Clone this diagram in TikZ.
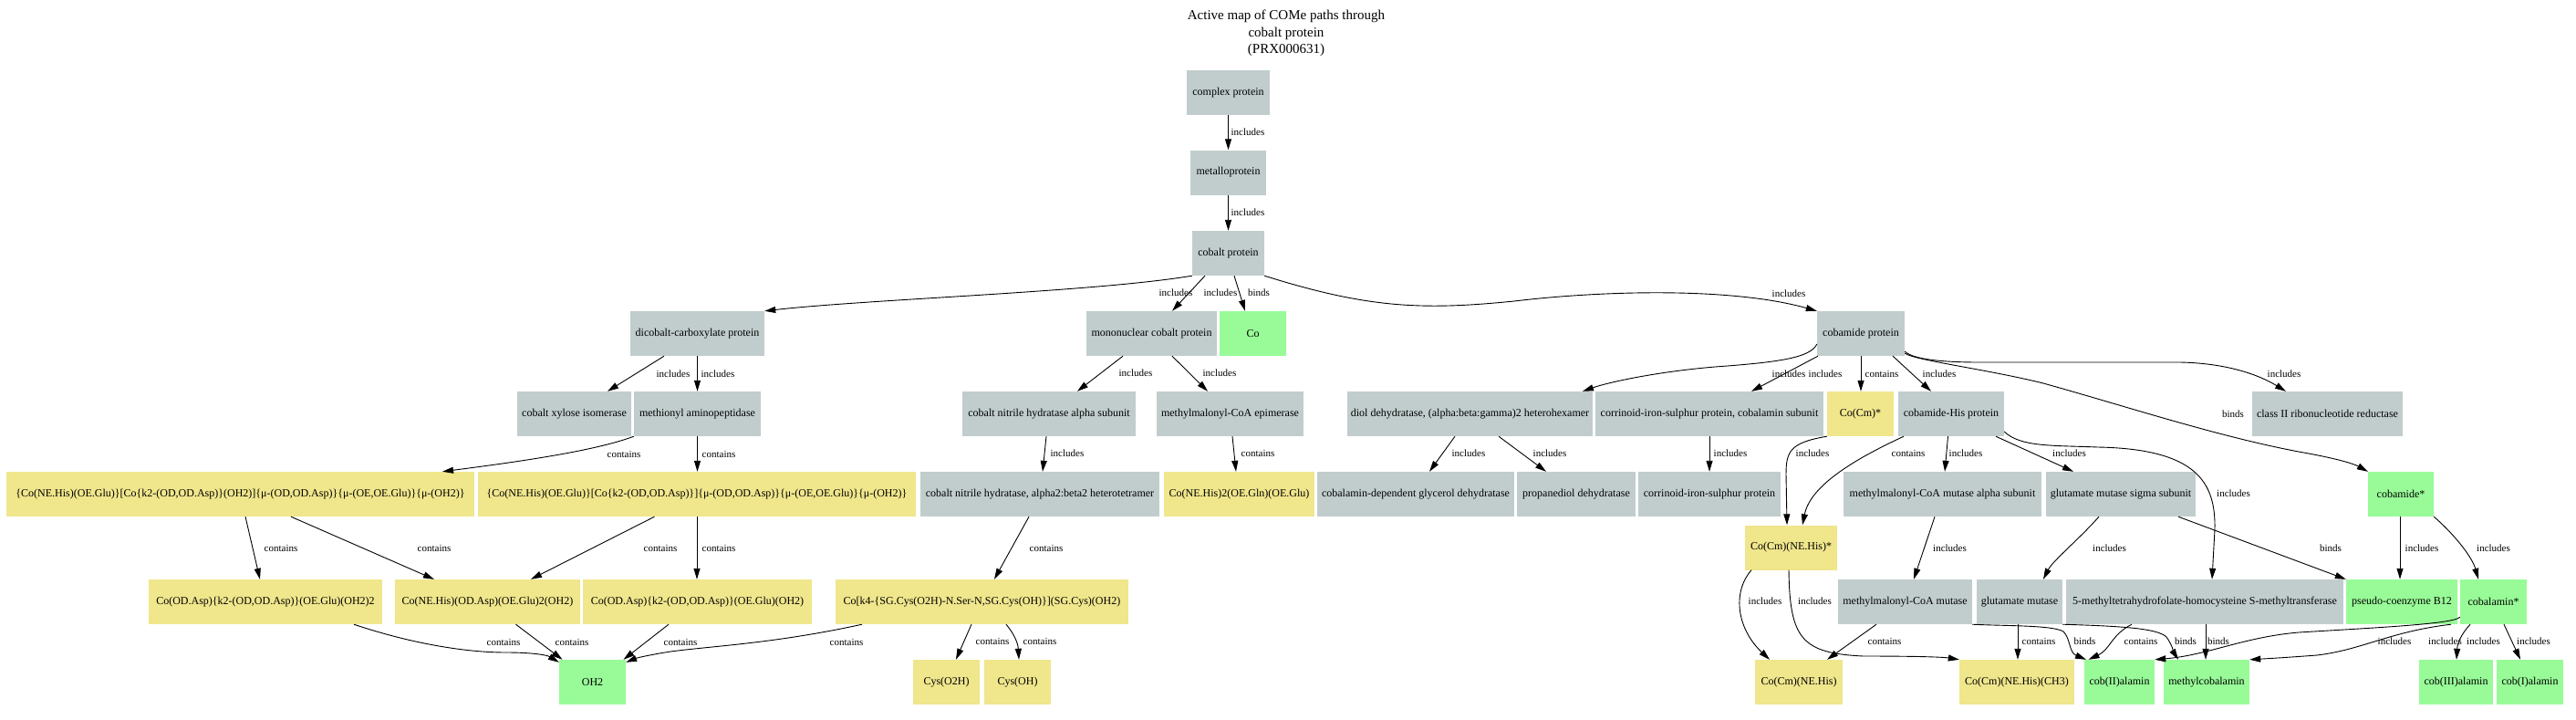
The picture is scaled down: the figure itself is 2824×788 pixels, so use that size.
\documentclass[tikz,border=0pt]{standalone}
\usepackage{fontspec}
\setmainfont{Liberation Serif}
\usetikzlibrary{arrows.meta}
\definecolor{gnode}{HTML}{C1CDCD}
\definecolor{ynode}{HTML}{F0E68C}
\definecolor{pnode}{HTML}{98FB98}
\begin{document}
\begin{tikzpicture}[x=1pt,y=-1pt,
  box/.style={rectangle, minimum height=49pt, inner sep=1pt, font=\fontsize{12}{14}\selectfont},
  g/.style={box, fill=gnode},
  yl/.style={box, fill=ynode},
  pg/.style={box, fill=pnode},
  e/.style={draw, line width=0.9pt, -{Triangle[length=12pt,width=7pt]}},
  lbl/.style={font=\fontsize{11}{13}\selectfont, inner sep=0pt}]
\fill[white] (0,0) rectangle (2824,788);
\useasboundingbox (0,0) rectangle (2824,788);
\node[align=center, font=\fontsize{15}{18.5}\selectfont] (title) at (1410,36.5) {Active map of COMe paths through\\cobalt protein\\(PRX000631)};
% nodes
\node[g, minimum width=91pt] (complex) at (1346.5,101.5) {complex protein};
\node[g, minimum width=83pt] (metallo) at (1346.5,189) {metalloprotein};
\node[g, minimum width=79pt] (cobalt) at (1346.5,277.5) {cobalt protein};
\node[g, minimum width=147pt] (dicobalt) at (764.5,365.5) {dicobalt-carboxylate protein};
\node[g, minimum width=143pt] (mono) at (1262.5,365.5) {mononuclear cobalt protein};
\node[pg, minimum width=73pt] (Co) at (1373.5,365.5) {Co};
\node[g, minimum width=96pt] (cobamide) at (2040,365.5) {cobamide protein};
\node[g, minimum width=125pt] (xylose) at (629.5,453.5) {cobalt xylose isomerase};
\node[g, minimum width=139pt] (methionyl) at (764.5,453.5) {methionyl aminopeptidase};
\node[g, minimum width=190pt] (alpha) at (1150,453.5) {cobalt nitrile hydratase alpha subunit};
\node[g, minimum width=161pt] (epimerase) at (1348.5,453.5) {methylmalonyl-CoA epimerase};
\node[g, minimum width=269pt] (diol) at (1611.5,453.5) {diol dehydratase, (alpha:beta:gamma)2 heterohexamer};
\node[g, minimum width=250pt] (corrsub) at (1874,453.5) {corrinoid-iron-sulphur protein, cobalamin subunit};
\node[yl, minimum width=73pt] (cocm) at (2039.5,453.5) {Co(Cm)*};
\node[g, minimum width=116pt] (cobhis) at (2139,453.5) {cobamide-His protein};
\node[g, minimum width=165pt] (classII) at (2551.5,453.5) {class II ribonucleotide reductase};
\node[yl, minimum width=513pt] (yone) at (263.5,541.5) {\{Co(NE.His)(OE.Glu)\}[Co\{k2-(OD,OD.Asp)\}(OH2)]\{μ-(OD,OD.Asp)\}\{μ-(OE,OE.Glu)\}\{μ-(OH2)\}};
\node[yl, minimum width=480pt] (ytwo) at (764,541.5) {\{Co(NE.His)(OE.Glu)\}[Co\{k2-(OD,OD.Asp)\}]\{μ-(OD,OD.Asp)\}\{μ-(OE,OE.Glu)\}\{μ-(OH2)\}};
\node[g, minimum width=262pt] (hetero) at (1140,541.5) {cobalt nitrile hydratase, alpha2:beta2 heterotetramer};
\node[yl, minimum width=165pt] (conehis2) at (1358.5,541.5) {Co(NE.His)2(OE.Gln)(OE.Glu)};
\node[g, minimum width=216pt] (glycerol) at (1552,541.5) {cobalamin-dependent glycerol dehydratase};
\node[g, minimum width=130pt] (propanediol) at (1728,541.5) {propanediol dehydratase};
\node[g, minimum width=156pt] (corr) at (1874,541.5) {corrinoid-iron-sulphur protein};
\node[g, minimum width=217pt] (mutalpha) at (2129.5,541.5) {methylmalonyl-CoA mutase alpha subunit};
\node[g, minimum width=164pt] (sigma) at (2325,541.5) {glutamate mutase sigma subunit};
\node[pg, minimum width=72pt] (cobamidestar) at (2632,541.5) {cobamide*};
\node[yl, minimum width=101pt] (cocmnehisstar) at (1963.5,600) {Co(Cm)(NE.His)*};
\node[yl, minimum width=256pt] (aone) at (291,659.5) {Co(OD.Asp)\{k2-(OD,OD.Asp)\}(OE.Glu)(OH2)2};
\node[yl, minimum width=203pt] (atwo) at (534.5,659.5) {Co(NE.His)(OD.Asp)(OE.Glu)2(OH2)};
\node[yl, minimum width=251pt] (athree) at (764.5,659.5) {Co(OD.Asp)\{k2-(OD,OD.Asp)\}(OE.Glu)(OH2)};
\node[yl, minimum width=321pt] (cok4) at (1076.5,659.5) {Co[k4-\{SG.Cys(O2H)-N.Ser-N,SG.Cys(OH)\}](SG.Cys)(OH2)};
\node[g, minimum width=147pt] (mutase) at (2088.5,659.5) {methylmalonyl-CoA mutase};
\node[g, minimum width=94pt] (glumut) at (2214,659.5) {glutamate mutase};
\node[g, minimum width=304pt] (mt) at (2417,659.5) {5-methyltetrahydrofolate-homocysteine S-methyltransferase};
\node[pg, minimum width=122pt] (pseudo) at (2633,659.5) {pseudo-coenzyme B12};
\node[pg, minimum width=73pt] (cobalstar) at (2733.5,659.5) {cobalamin*};
\node[pg, minimum width=73pt] (ohtwo) at (649.5,747.5) {OH2};
\node[yl, minimum width=73pt] (cyso2h) at (1037.5,747.5) {Cys(O2H)};
\node[yl, minimum width=73pt] (cysoh) at (1115.5,747.5) {Cys(OH)};
\node[yl, minimum width=96pt] (cocmnehis) at (1972,747.5) {Co(Cm)(NE.His)};
\node[yl, minimum width=126pt] (ch3) at (2211,747.5) {Co(Cm)(NE.His)(CH3)};
\node[pg, minimum width=77pt] (cobii) at (2323.5,747.5) {cob(II)alamin};
\node[pg, minimum width=94pt] (methylcob) at (2419,747.5) {methylcobalamin};
\node[pg, minimum width=81pt] (cobiii) at (2692.5,747.5) {cob(III)alamin};
\node[pg, minimum width=73pt] (cobi) at (2773.5,747.5) {cob(I)alamin};
% edges
\draw[e] (complex) -- (metallo);
\draw[e] (metallo) -- (cobalt);
\draw[e] (cobalt.south west) .. controls (1200,320) and (950,328) .. (dicobalt.north east);
\draw[e] ([xshift=-25.5pt]cobalt.south) -- ([xshift=22.5pt]mono.north);
\draw[e] ([xshift=6.5pt]cobalt.south) -- ([xshift=-8.5pt]Co.north);
\draw[e] (cobalt.south east) .. controls (1500,338) and (1560,340) .. (1660,330) .. controls (1760,318) and (1900,315) .. (cobamide.north west);
\draw[e] ([xshift=-36.5pt]dicobalt.south) -- ([xshift=36.5pt]xylose.north);
\draw[e] (dicobalt) -- (methionyl);
\draw[e] (methionyl.south west) .. controls (650,495) and (560,507) .. ([xshift=221.5pt]yone.north);
\draw[e] (methionyl.south) -- (methionyl.south |- ytwo.north);
\draw[e] ([xshift=5.5pt]yone.south) -- ([xshift=-6pt]aone.north);
\draw[e] ([xshift=55.5pt]yone.south) -- ([xshift=-58.5pt]atwo.north);
\draw[e] ([xshift=-46.5pt]ytwo.south) -- ([xshift=47.5pt]atwo.north);
\draw[e] (ytwo.south) -- (ytwo.south |- athree.north);
\draw[e] ([xshift=-12pt]hetero.south) -- ([xshift=13.5pt]cok4.north);
\draw[e] ([xshift=97pt]aone.south) .. controls (450,705) and (510,715) .. (555,715) .. controls (585,715) and (600,718) .. ([yshift=-3pt]ohtwo.north west);
\draw[e] ([xshift=31pt]atwo.south) -- ([xshift=-33pt]ohtwo.north);
\draw[e] ([xshift=-31.5pt]athree.south) -- ([xshift=34pt]ohtwo.north);
\draw[e] ([xshift=-131.5pt]cok4.south) .. controls (850,705) and (780,708) .. (735,714) .. controls (710,718) and (698,721) .. ([yshift=-3pt]ohtwo.north east);
\draw[e] ([xshift=-11.5pt]cok4.south) -- ([xshift=10.5pt]cyso2h.north);
\draw[e] ([xshift=26.5pt]cok4.south) .. controls (1112,695) and (1116,705) .. ([xshift=1.5pt]cysoh.north);
\draw[e] ([xshift=-31.5pt]mono.south) -- ([xshift=31pt]alpha.north);
\draw[e] ([xshift=22.5pt]mono.south) -- ([xshift=-24.5pt]epimerase.north);
\draw[e] ([xshift=-3pt]alpha.south) -- ([xshift=3pt]hetero.north);
\draw[e] ([xshift=2.5pt]epimerase.south) -- ([xshift=-3.5pt]conehis2.north);
\draw[e] ([yshift=-11.5pt]cobamide.west) .. controls (1985,392) and (1950,397) .. (1880,402) .. controls (1810,408) and (1760,420) .. ([xshift=123.5pt]diol.north);
\draw[e] ([xshift=-47pt]cobamide.south) -- ([xshift=46pt]corrsub.north);
\draw[e] (cobamide.south) -- (cobamide.south |- cocm.north);
\draw[e] ([xshift=35pt]cobamide.south) -- ([xshift=-22pt]cobhis.north);
\draw[e] ([yshift=5pt]cobamide.south east) .. controls (2098,394) and (2130,397) .. (2170,397) -- (2390,397) .. controls (2440,398) and (2475,410) .. ([xshift=-45.5pt]classII.north);
\draw[e] ([yshift=3pt]cobamide.south east) .. controls (2100,395) and (2180,405) .. (2240,420) .. controls (2330,445) and (2430,478) .. (2520,495) .. controls (2560,502) and (2580,508) .. (cobamidestar.north west);
\draw[e] ([xshift=-16.5pt]diol.south) -- ([xshift=15pt]glycerol.north);
\draw[e] ([xshift=31.5pt]diol.south) -- ([xshift=-33pt]propanediol.north);
\draw[e] (corrsub) -- (corr);
\draw[e] (cocm.south west) .. controls (1962,485) and (1958,495) .. (1958,520) -- ([xshift=-4.5pt]cocmnehisstar.north);
\draw[e] ([xshift=-52pt]cobhis.south) .. controls (2040,500) and (1985,530) .. ([xshift=12.5pt]cocmnehisstar.north);
\draw[e] ([xshift=-3.5pt]cobhis.south) -- ([xshift=2.5pt]mutalpha.north);
\draw[e] ([xshift=49pt]cobhis.south) -- ([xshift=-52pt]sigma.north);
\draw[e] ([yshift=-19.5pt]cobhis.east) .. controls (2215,490) and (2250,488) .. (2300,490) .. controls (2410,492) and (2429,530) .. (2428,580) -- ([xshift=8pt]mt.north);
\draw[e] ([xshift=-8.5pt]mutalpha.south) -- ([xshift=9.5pt]mutase.north);
\draw[e] ([xshift=-24pt]sigma.south) .. controls (2280,590) and (2250,615) .. ([xshift=26pt]glumut.north);
\draw[e] ([xshift=63pt]sigma.south) -- (pseudo.north west);
\draw[e] ([xshift=-1pt]cobamidestar.south) -- ([xshift=-2pt]pseudo.north);
\draw[e] (cobamidestar.south east) .. controls (2690,585) and (2710,610) .. ([xshift=-16.5pt]cobalstar.north);
\draw[e] ([xshift=-43.5pt]cocmnehisstar.south) .. controls (1898,650) and (1905,690) .. ([xshift=-32pt]cocmnehis.north);
\draw[e] ([xshift=-2.5pt]cocmnehisstar.south) .. controls (1962,700) and (1975,716) .. (2043,719) .. controls (2100,719) and (2130,720) .. (ch3.north west);
\draw[e] ([xshift=-31.5pt]mutase.south) -- ([xshift=31pt]cocmnehis.north);
\draw[e] (mutase.south east) .. controls (2200,686) and (2250,685) .. (2262,692) .. controls (2270,700) and (2268,715) .. ([xshift=-36.5pt]cobii.north);
\draw[e] ([xshift=-2pt]glumut.south) -- ([xshift=1pt]ch3.north);
\draw[e] (glumut.south east) .. controls (2320,686) and (2365,688) .. (2375,698) .. controls (2382,708) and (2383,715) .. ([xshift=-31pt]methylcob.north);
\draw[e] ([xshift=-80pt]mt.south) .. controls (2315,695) and (2313,712) .. ([xshift=-34pt]cobii.north);
\draw[e] ([xshift=1pt]mt.south) -- ([xshift=-1pt]methylcob.north);
\draw[e] ([yshift=8pt]cobalstar.south west) .. controls (2690,684) and (2600,688) .. (2520,693) .. controls (2460,698) and (2420,718) .. (cobii.north east);
\draw[e] ([xshift=-46.5pt]cobalstar.south) .. controls (2620,692) and (2590,712) .. (2540,718) .. controls (2500,721) and (2480,722) .. (methylcob.north east);
\draw[e] ([xshift=-25.5pt]cobalstar.south) .. controls (2698,695) and (2694,705) .. ([xshift=0.5pt]cobiii.north);
\draw[e] ([xshift=11.5pt]cobalstar.south) -- ([xshift=-10.5pt]cobi.north);
% labels
\node[lbl] (l1) at (1368,145) {includes};
\node[lbl] (l2) at (1368,233) {includes};
\node[lbl] (l3) at (1289,321) {includes};
\node[lbl] (l4) at (1338,321) {includes};
\node[lbl] (l5) at (1380,321) {binds};
\node[lbl] (l6) at (1961,322) {includes};
\node[lbl] (l7) at (738,410) {includes};
\node[lbl] (l8) at (787,410) {includes};
\node[lbl] (l9) at (684,498) {contains};
\node[lbl] (l10) at (788,498) {contains};
\node[lbl] (l11) at (1245,409) {includes};
\node[lbl] (l12) at (1337,409) {includes};
\node[lbl] (l13) at (1170,497) {includes};
\node[lbl] (l14) at (1379,497) {contains};
\node[lbl] (l15) at (308,601) {contains};
\node[lbl] (l16) at (476,601) {contains};
\node[lbl] (l17) at (724,601) {contains};
\node[lbl] (l18) at (788,601) {contains};
\node[lbl] (l19) at (1147,601) {contains};
\node[lbl] (l20) at (552,704) {contains};
\node[lbl] (l21) at (627,704) {contains};
\node[lbl] (l22) at (746,704) {contains};
\node[lbl] (l23) at (928,704) {contains};
\node[lbl] (l24) at (1088,703) {contains};
\node[lbl] (l25) at (1140,703) {contains};
\node[lbl] (l26) at (1961,410) {includes};
\node[lbl] (l27) at (2001,410) {includes};
\node[lbl] (l28) at (2063,410) {contains};
\node[lbl] (l29) at (2126,410) {includes};
\node[lbl] (l30) at (2504,410) {includes};
\node[lbl] (l31) at (2448,454) {binds};
\node[lbl] (l32) at (1610,497) {includes};
\node[lbl] (l33) at (1699,497) {includes};
\node[lbl] (l34) at (1897,497) {includes};
\node[lbl] (l35) at (1987,497) {includes};
\node[lbl] (l36) at (2092,497) {contains};
\node[lbl] (l37) at (2155,497) {includes};
\node[lbl] (l38) at (2268.5,497) {includes};
\node[lbl] (l39) at (2448.5,541) {includes};
\node[lbl] (l40) at (2137.5,601) {includes};
\node[lbl] (l41) at (2312.5,601) {includes};
\node[lbl] (l42) at (2555,601) {binds};
\node[lbl] (l43) at (2655,601) {includes};
\node[lbl] (l44) at (2733.5,601) {includes};
\node[lbl] (l45) at (1935,659) {includes};
\node[lbl] (l46) at (1989.5,659) {includes};
\node[lbl] (l47) at (2066,703) {contains};
\node[lbl] (l48) at (2285.5,703) {binds};
\node[lbl] (l49) at (2235,703) {contains};
\node[lbl] (l50) at (2347,703) {contains};
\node[lbl] (l51) at (2396,703) {binds};
\node[lbl] (l52) at (2432,703) {binds};
\node[lbl] (l53) at (2625,703) {includes};
\node[lbl] (l54) at (2680.5,703) {includes};
\node[lbl] (l55) at (2722.5,703) {includes};
\node[lbl] (l56) at (2777.5,703) {includes};
\end{tikzpicture}
\end{document}
